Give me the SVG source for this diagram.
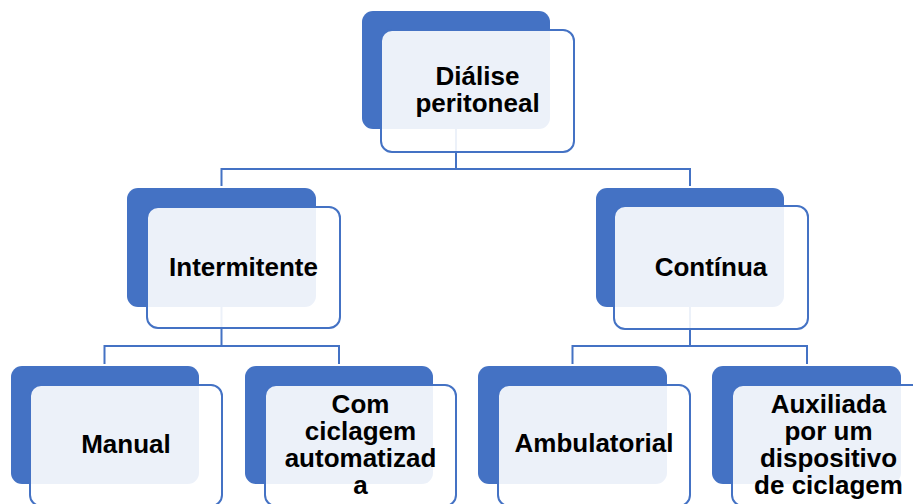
<svg xmlns="http://www.w3.org/2000/svg" width="913" height="504" viewBox="0 0 913 504">
<style>
.back{fill:#4472C4;}
.front{fill:#FFFFFF;fill-opacity:0.9;stroke:#4472C4;stroke-width:2;}
.conn{fill:none;stroke:#4472C4;stroke-width:2;}
.t{font-family:"Liberation Sans",Arial,sans-serif;font-weight:bold;font-size:26px;fill:#000;text-anchor:middle;}
</style>
<rect width="913" height="504" fill="#FFFFFF"/>
<g id="connectors">
<path class="conn" d="M456,129 V169 M221.5,169 H690 M221.5,168 V186 M690,168 V186"/>
<path class="conn" d="M221.5,307 V346 M104.5,346 H339 M104.5,345 V364 M339,345 V364"/>
<path class="conn" d="M690,307 V346 M572.5,346 H807 M572.5,345 V364 M807,345 V364"/>
</g>
<g id="n-dialise">
<rect class="back" x="362" y="11" width="188" height="118" rx="11"/>
<rect class="front" x="381" y="30" width="193" height="122" rx="11"/>
<text class="t" x="477.5" y="85">Diálise</text>
<text class="t" x="477.5" y="112">peritoneal</text>
</g>
<g id="n-intermitente">
<rect class="back" x="127" y="188" width="189" height="119" rx="11"/>
<rect class="front" x="147" y="207" width="193" height="121" rx="11"/>
<text class="t" x="243.5" y="276">Intermitente</text>
</g>
<g id="n-continua">
<rect class="back" x="596" y="188" width="188" height="119" rx="11"/>
<rect class="front" x="614" y="206" width="194" height="123" rx="11"/>
<text class="t" x="711" y="276">Contínua</text>
</g>
<g id="n-manual">
<rect class="back" x="11" y="366" width="188" height="118" rx="11"/>
<rect class="front" x="30" y="385" width="192" height="121" rx="11"/>
<text class="t" x="126" y="453">Manual</text>
</g>
<g id="n-com-ciclagem">
<rect class="back" x="245" y="366" width="188" height="118" rx="11"/>
<rect class="front" x="265" y="385" width="191" height="121" rx="11"/>
<text class="t" x="360.5" y="413">Com</text>
<text class="t" x="360.5" y="440">ciclagem</text>
<text class="t" x="360.5" y="467">automatizad</text>
<text class="t" x="360.5" y="494">a</text>
</g>
<g id="n-ambulatorial">
<rect class="back" x="478" y="366" width="189" height="118" rx="11"/>
<rect class="front" x="498" y="385" width="192" height="121" rx="11"/>
<text class="t" x="594" y="452">Ambulatorial</text>
</g>
<g id="n-auxiliada">
<rect class="back" x="712" y="366" width="189" height="118" rx="11"/>
<rect class="front" x="732" y="385" width="193" height="121" rx="11"/>
<text class="t" x="828.5" y="413">Auxiliada</text>
<text class="t" x="828.5" y="440">por um</text>
<text class="t" x="828.5" y="467">dispositivo</text>
<text class="t" x="828.5" y="494">de ciclagem</text>
</g>
</svg>
